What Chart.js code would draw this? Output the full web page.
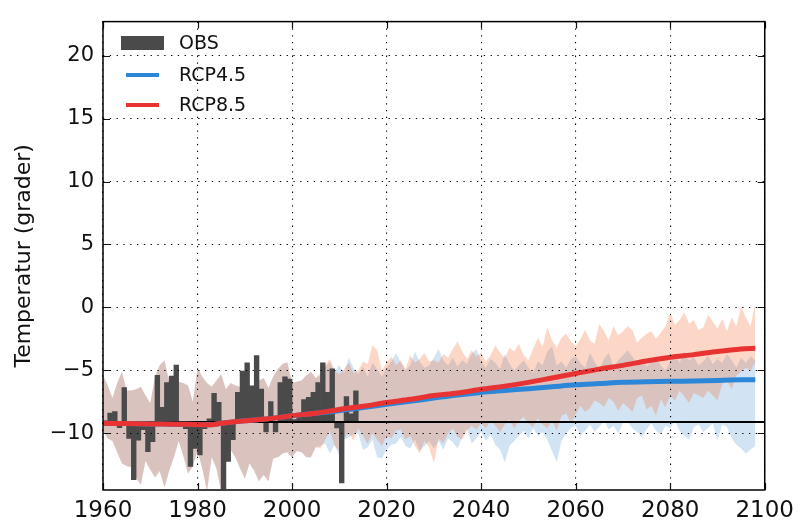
<!DOCTYPE html>
<html><head><meta charset="utf-8">
<script src="https://cdn.jsdelivr.net/npm/chart.js@4.4.1/dist/chart.umd.min.js"></script>
<style>html,body{margin:0;padding:0;background:#fff}#wrap{width:801px;height:521px}</style>
</head><body><div id="wrap"><canvas id="c" width="801" height="521"></canvas></div>
<script>
const YEAR0 = 1960;
const FUT0 = 2006;
const OBS_BASE = -9.1;
// observed anomalies 1960-2013
const OBS = [-9.0,-8.4,-8.27,-9.55,-6.36,-10.4,-13.67,-10.54,-9.7,-11.45,
  -10.67,-5.39,-7.93,-5.97,-5.45,-4.58,-9.44,-9.62,-12.62,-11.19,
  -11.71,-9.62,-8.84,-6.83,-7.53,-14.4,-12.23,-10.5,-6.75,-5.05,
  -4.4,-6.23,-3.83,-6.49,-9.88,-7.48,-9.88,-5.97,-5.52,-5.7,
  -8.9,-8.6,-7.32,-7.14,-6.75,-5.97,-4.4,-6.75,-4.87,-9.57,
  -13.93,-7.09,-8.45,-6.62];
// historical ensemble range 1960-2005
const HIST_UP = [-5.4,-6.2,-7.2,-6.0,-5.1,-6.6,-6.6,-6.5,-6.3,-7.0,
  -7.6,-5.5,-4.6,-4.2,-5.9,-6.0,-5.9,-6.0,-6.2,-7.5,
  -4.8,-5.5,-6.0,-6.3,-5.8,-5.3,-6.5,-6.0,-6.2,-6.3,
  -7.3,-6.4,-6.5,-5.8,-5.6,-6.4,-5.5,-4.9,-4.5,-4.35,
  -6.0,-5.9,-5.8,-5.4,-5.1,-5.6];
const HIST_LO = [-9.8,-10.4,-10.6,-11.5,-12.4,-12.6,-12.7,-13.5,-14.1,-12.2,
  -12.9,-13.5,-13.0,-14.3,-13.0,-11.9,-10.6,-11.8,-13.2,-12.6,
  -11.4,-12.8,-14.6,-11.9,-12.8,-14.6,-10.6,-11.3,-11.9,-12.8,
  -13.6,-12.4,-13.0,-13.8,-13.3,-13.8,-12.0,-11.9,-11.6,-11.5,
  -11.9,-11.4,-11.5,-11.9,-11.9,-11.1];
// scenario ranges 2006-2098
const RCP85_UP = [-5.2,-4.6,-4.1,-5.0,-5.3,-4.9,-4.4,-5.2,-5.0,-4.3,
  -4.5,-3.0,-3.4,-5.0,-4.4,-3.9,-4.6,-4.2,-4.9,-3.8,
  -4.4,-4.1,-3.6,-4.3,-4.2,-4.4,-3.7,-4.0,-3.3,-2.7,
  -3.5,-4.1,-3.4,-3.9,-3.6,-4.3,-3.8,-3.0,-3.6,-4.0,
  -3.2,-3.5,-2.9,-3.8,-4.2,-3.3,-2.4,-3.1,-1.6,-2.6,
  -3.2,-2.4,-2.1,-2.7,-3.1,-2.5,-1.8,-2.6,-2.9,-1.3,
  -1.9,-2.6,-1.5,-2.2,-1.9,-1.5,-1.8,-2.8,-2.4,-2.1,
  -1.9,-2.5,-2.0,-1.5,-0.4,-1.4,-1.0,-0.4,-1.3,-1.0,
  -1.8,-1.6,-0.6,-1.1,-1.7,-0.9,-1.9,-0.8,-1.5,0.1,
  -0.8,-1.5,0.3];
const RCP85_LO = [-11.2,-10.5,-9.8,-11.0,-11.4,-10.4,-9.9,-10.6,-9.6,-10.2,
  -10.8,-10.0,-10.5,-11.0,-10.2,-10.4,-9.8,-9.7,-10.5,-10.2,
  -11.0,-11.6,-10.6,-11.1,-12.4,-10.4,-10.8,-10.0,-9.6,-10.3,
  -10.5,-9.8,-9.4,-9.7,-9.2,-9.6,-9.0,-9.4,-9.9,-9.3,
  -8.9,-9.6,-9.0,-8.7,-9.2,-9.5,-8.8,-9.3,-9.6,-9.0,
  -9.8,-8.6,-8.4,-9.2,-8.5,-7.8,-8.3,-8.0,-7.4,-7.6,
  -7.9,-7.2,-7.5,-8.2,-7.6,-7.9,-8.3,-7.2,-7.0,-8.1,
  -7.8,-8.6,-7.3,-7.9,-7.0,-7.4,-6.6,-7.1,-7.6,-6.8,
  -7.0,-7.2,-6.6,-7.0,-7.4,-6.1,-5.8,-6.5,-5.4,-5.1,
  -4.8,-5.0,-4.4];
const RCP45_UP = [-5.4,-4.8,-4.3,-5.1,-4.6,-5.2,-4.0,-4.8,-5.3,-4.7,
  -5.5,-4.4,-4.9,-5.5,-4.8,-4.3,-3.6,-4.4,-5.0,-4.6,
  -3.5,-4.3,-4.8,-4.6,-4.0,-3.3,-4.2,-4.6,-4.0,-4.7,
  -4.2,-4.5,-3.7,-3.3,-4.3,-4.8,-4.1,-4.4,-4.9,-3.7,
  -4.5,-5.0,-4.6,-4.2,-4.8,-5.2,-4.3,-4.6,-3.5,-3.1,
  -4.6,-4.3,-4.8,-4.1,-3.9,-4.4,-4.8,-3.6,-4.3,-4.9,
  -4.1,-3.6,-4.7,-4.2,-3.8,-3.4,-3.9,-4.5,-4.1,-4.7,
  -4.4,-3.9,-4.6,-5.0,-4.3,-3.7,-4.4,-3.5,-4.2,-3.9,
  -4.6,-4.3,-3.8,-4.5,-4.1,-4.4,-3.7,-4.2,-4.8,-4.0,
  -4.4,-3.9,-4.2];
const RCP45_LO = [-11.0,-10.8,-11.6,-10.9,-11.8,-10.5,-10.3,-10.1,-10.0,-11.3,
  -11.1,-10.5,-11.9,-12.0,-11.3,-10.9,-10.8,-10.3,-11.0,-11.2,
  -10.5,-11.4,-11.0,-10.6,-11.2,-10.6,-11.3,-10.4,-10.7,-11.2,
  -10.3,-9.6,-10.8,-10.4,-9.9,-10.6,-10.1,-10.9,-11.3,-12.3,
  -11.0,-10.6,-10.2,-9.8,-10.4,-9.6,-10.2,-9.9,-10.5,-11.4,
  -12.3,-10.6,-10.0,-9.6,-9.4,-10.2,-9.8,-9.3,-9.9,-9.5,
  -9.0,-9.7,-9.4,-10.0,-9.2,-9.1,-9.6,-9.9,-10.3,-9.7,
  -9.2,-9.8,-10.1,-9.4,-9.6,-9.0,-9.8,-10.2,-10.5,-9.5,
  -9.3,-9.9,-9.6,-9.2,-10.6,-9.3,-9.5,-10.4,-10.9,-11.2,
  -11.6,-11.3,-11.0];
// smoothed ensemble means
const MEAN_YEARS = [1960,1965,1970,1975,1980,1983,1985,1990,1995,2000,2005,2010,2015,2020,2025,2030,2035,2040,2045,2050,2055,2060,2065,2070,2075,2080,2085,2090,2095,2098];
const RCP85_MEAN = [-9.2,-9.22,-9.25,-9.27,-9.3,-9.32,-9.2,-9.0,-8.85,-8.6,-8.4,-8.1,-7.85,-7.55,-7.3,-7.0,-6.8,-6.5,-6.25,-5.95,-5.6,-5.25,-4.9,-4.6,-4.25,-3.95,-3.75,-3.5,-3.3,-3.25];
const RCP45_MEAN = [-9.2,-9.22,-9.25,-9.27,-9.3,-9.32,-9.2,-9.0,-8.85,-8.6,-8.4,-8.2,-7.95,-7.7,-7.45,-7.2,-6.95,-6.75,-6.6,-6.45,-6.3,-6.15,-6.05,-5.95,-5.9,-5.87,-5.85,-5.8,-5.75,-5.75];
const X_TICKS = [1960,1980,2000,2020,2040,2060,2080,2100];
const Y_TICKS = [-10,-5,0,5,10,15,20];
const X_MIN = 1960, X_MAX = 2100, Y_MIN = -14.5, Y_MAX = 22.7;
const LABELS = ['OBS','RCP4.5','RCP8.5'];

const C_OBS = '#4a4a4a', C45 = '#2c87d8', C85 = '#e93333';
const FONT = "'DejaVu Sans', sans-serif";

const band = (hist, fut) => hist.concat(fut).map((v,i) => ({x: YEAR0 + i, y: v}));
const meanPts = arr => arr.map((v,i) => ({x: MEAN_YEARS[i], y: v}));

const frame = {
  id: 'frame',
  afterDraw(chart) {
    const {ctx, chartArea: a, scales: {x, y}} = chart;
    ctx.save();
    ctx.strokeStyle = '#111';
    ctx.lineWidth = 1.2;
    const L = 7;
    ctx.beginPath();
    X_TICKS.forEach(t => { const px = Math.round(x.getPixelForValue(t)) + 0.5;
      ctx.moveTo(px, a.bottom); ctx.lineTo(px, a.bottom - L);
      ctx.moveTo(px, a.top); ctx.lineTo(px, a.top + L); });
    Y_TICKS.forEach(t => { const py = Math.round(y.getPixelForValue(t)) + 0.5;
      ctx.moveTo(a.left, py); ctx.lineTo(a.left + L, py);
      ctx.moveTo(a.right, py); ctx.lineTo(a.right - L, py); });
    ctx.stroke();
    ctx.lineWidth = 1.5;
    ctx.strokeStyle = '#000';
    ctx.strokeRect(a.left, a.top, a.right - a.left, a.bottom - a.top);
    // legend
    const lx = a.left + 18;
    ctx.font = '19px ' + FONT;
    ctx.textBaseline = 'middle';
    ctx.fillStyle = C_OBS;
    ctx.fillRect(lx, 36, 43, 14);
    ctx.lineWidth = 4;
    ctx.strokeStyle = C45;
    ctx.beginPath(); ctx.moveTo(lx + 5, 75); ctx.lineTo(lx + 38, 75); ctx.stroke();
    ctx.strokeStyle = C85;
    ctx.beginPath(); ctx.moveTo(lx + 5, 105); ctx.lineTo(lx + 38, 105); ctx.stroke();
    ctx.fillStyle = '#111';
    ctx.fillText(LABELS[0], lx + 58, 44);
    ctx.fillText(LABELS[1], lx + 58, 76);
    ctx.fillText(LABELS[2], lx + 58, 106);
    ctx.restore();
  }
};

new Chart(document.getElementById('c'), {
  type: 'line',
  data: {
    datasets: [
      {data: band(HIST_LO, RCP45_LO), borderWidth: 0, pointRadius: 0, fill: false, order: 10, tension: 0},
      {data: band(HIST_UP, RCP45_UP), borderWidth: 0, pointRadius: 0, fill: 0, backgroundColor: 'rgba(75,147,207,0.25)', order: 10, tension: 0},
      {data: band(HIST_LO, RCP85_LO), borderWidth: 0, pointRadius: 0, fill: false, order: 9, tension: 0},
      {data: band(HIST_UP, RCP85_UP), borderWidth: 0, pointRadius: 0, fill: 2, backgroundColor: 'rgba(243,95,35,0.25)', order: 9, tension: 0},
      {type: 'bar', data: OBS.map((v,i) => ({x: YEAR0 + i + 0.5, y: [OBS_BASE, v]})), backgroundColor: C_OBS, borderWidth: 0, barPercentage: 1, categoryPercentage: 1, order: 5},
      {data: [{x: X_MIN, y: OBS_BASE}, {x: X_MAX, y: OBS_BASE}], borderColor: '#000', borderWidth: 2, pointRadius: 0, fill: false, order: 4},
      {data: meanPts(RCP45_MEAN), borderColor: C45, borderWidth: 5, pointRadius: 0, fill: false, order: 2, tension: 0.3},
      {data: meanPts(RCP85_MEAN), borderColor: C85, borderWidth: 5, pointRadius: 0, fill: false, order: 1, tension: 0.3}
    ]
  },
  options: {
    responsive: false,
    animation: false,
    devicePixelRatio: 1,
    layout: {padding: {top: 15, right: 31, bottom: 0, left: 0}},
    plugins: {legend: {display: false}, tooltip: {enabled: false}},
    scales: {
      x: {
        type: 'linear', min: X_MIN, max: X_MAX, offset: false,
        afterBuildTicks: s => { s.ticks = X_TICKS.map(v => ({value: v})); },
        afterFit: s => { s.height = 31; },
        grid: {color: '#000', lineWidth: 1.1, drawTicks: false, offset: false, z: 1},
        border: {display: false, dash: [1.3, 5.5]},
        ticks: {padding: 7, color: '#111', font: {family: FONT, size: 23}, maxRotation: 0, callback: v => String(v)}
      },
      y: {
        type: 'linear', min: Y_MIN, max: Y_MAX,
        afterBuildTicks: s => { s.ticks = Y_TICKS.map(v => ({value: v})); },
        afterFit: s => { s.width = 103; },
        grid: {color: '#000', lineWidth: 1.1, drawTicks: false, offset: false, z: 1},
        border: {display: false, dash: [1.3, 5.5]},
        ticks: {padding: 9, color: '#111', font: {family: FONT, size: 21}, callback: v => String(v).replace('-', '\u2212')},
        title: {display: true, text: 'Temperatur (grader)', color: '#111', font: {family: FONT, size: 22}, padding: {top: 11, bottom: 0}}
      }
    }
  },
  plugins: [frame]
});
</script>
</body></html>
